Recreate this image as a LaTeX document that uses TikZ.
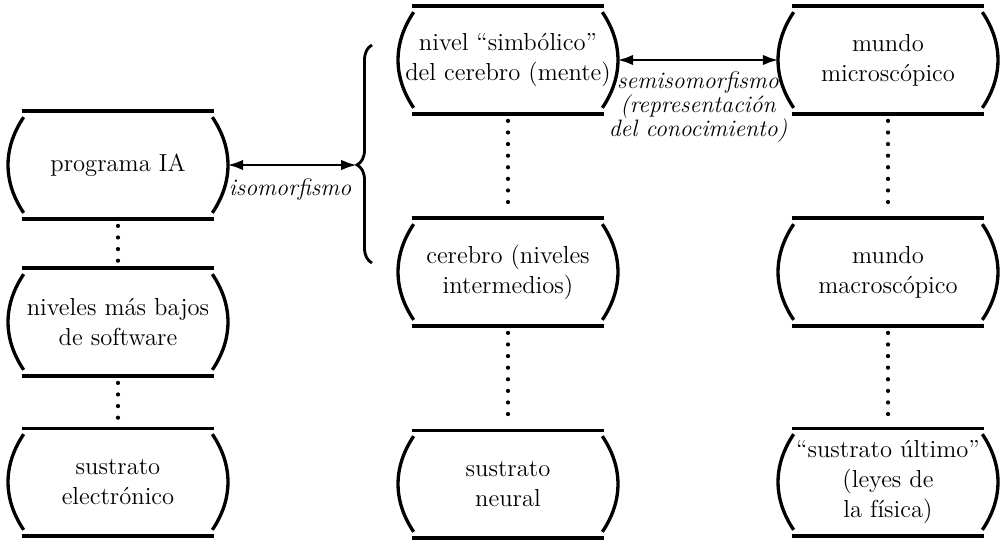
\documentclass[tikz,border=0pt]{standalone}
\usepackage{tikz}
\usetikzlibrary{arrows.meta,calc,decorations.pathreplacing}

\tikzset{
  nivel/.style={minimum width=4.36cm,minimum height=2.14cm,inner sep=0pt,align=center,
    font=\fontsize{14}{17}\selectfont},
  etiq/.style={align=center,font=\fontsize{13.5}{13.6}\selectfont\itshape},
  marco/.style={line width=1.9pt},
  puntos/.style={line width=2.4pt,line cap=round,dash pattern=on 0pt off 6.6pt,
    shorten <=4pt,shorten >=4pt},
  flecha/.style={line width=1.6pt,{Latex[length=9pt,width=6pt]}-{Latex[length=9pt,width=6pt]}}
}

\begin{document}
\begin{tikzpicture}[x=0.02cm,y=-0.02cm]
\useasboundingbox (0,0) rectangle (1000,542);
% columna IA
\node[nivel] (prog)  at (118,165) {programa IA};
\node[nivel] (soft)  at (118,322) {niveles más bajos\\de software};
\node[nivel] (elec)  at (118,482) {sustrato\\electrónico};
% columna cerebro
\node[nivel] (simb)  at (508,60)  {nivel “simbólico”\\del cerebro (mente)};
\node[nivel] (inter) at (508,272) {cerebro (niveles\\intermedios)};
\node[nivel] (neur)  at (508,484) {sustrato\\neural};
% columna mundo
\node[nivel] (micro) at (888,60)  {mundo\\microscópico};
\node[nivel] (macro) at (888,272) {mundo\\macroscópico};
\node[nivel] (ult)   at (888,482) {“sustrato último”\\(leyes de\\la física)};
\foreach \n in {prog,soft,elec,simb,inter,neur,micro,macro,ult}{
  \draw[marco] ($(\n.north west)+(13,0)$) -- ($(\n.north east)+(-13,0)$);
  \draw[marco] ($(\n.south west)+(13,0)$) -- ($(\n.south east)+(-13,0)$);
  \draw[marco] ($(\n.north west)+(15,6)$) to[bend right=34] ($(\n.south west)+(15,-6)$);
  \draw[marco] ($(\n.north east)+(-15,6)$) to[bend left=34] ($(\n.south east)+(-15,-6)$);}
\foreach \a/\b in {prog/soft,soft/elec,simb/inter,inter/neur,micro/macro,macro/ult}
  \draw[puntos] (\a) -- (\b);
% llave y correspondencias
\draw[line width=1.6pt,decorate,decoration={brace,amplitude=0.3cm,aspect=0.45}] (372,263) -- (372,45);
\coordinate (punta) at (357,165);
\draw[flecha] (prog) -- (punta);
\node[etiq] (iso) at (290,190) {isomorfismo};
\draw[flecha] (simb) -- (micro);
\node[etiq] (semi) at (698,107) {semisomorfismo\\(representación\\del conocimiento)};
\end{tikzpicture}
\end{document}
